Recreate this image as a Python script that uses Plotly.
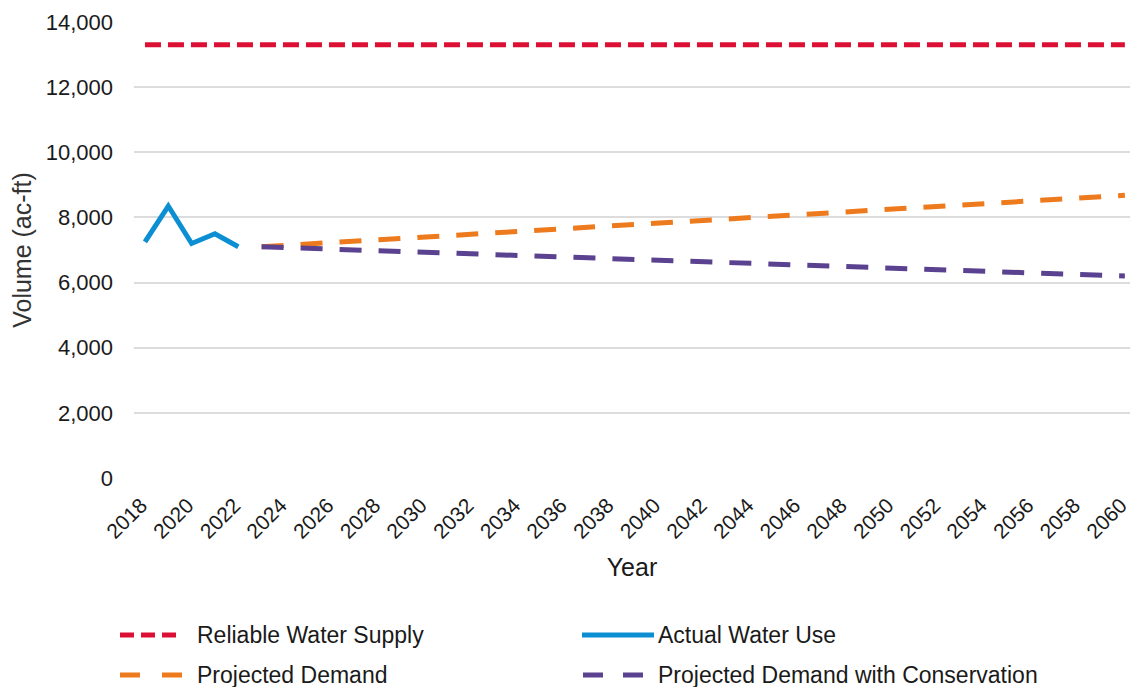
import plotly.graph_objects as go

# Water supply and demand series (acre-feet)
supply_years = [2018, 2060]
reliable_supply = [13300, 13300]

actual_years = [2018, 2019, 2020, 2021, 2022]
actual_use = [7250, 8350, 7200, 7500, 7100]

proj_years = [2023, 2030, 2040, 2050, 2060]
projected_demand = [7100, 7400, 7830, 8250, 8680]
demand_with_conservation = [7100, 6930, 6690, 6440, 6200]

x_ticks = list(range(2018, 2061, 2))
y_ticks = [0, 2000, 4000, 6000, 8000, 10000, 12000, 14000]

FONT = "Liberation Sans, Arial, sans-serif"
TEXT = "#1a1a1a"

W, H = 1130, 687
ML, MR, MT, MB = 134, 0, 22, 209
PW, PH = W - ML - MR, H - MT - MB

RED, BLUE, ORANGE, PURPLE = "#DC1035", "#0C8ED3", "#EE7A1E", "#5A4290"
SUPPLY_DASH = "16px,7px"
DEMAND_DASH = "22px,17px"

series = [
    ("Reliable Water Supply", supply_years, reliable_supply, RED, 5, SUPPLY_DASH),
    ("Actual Water Use", actual_years, actual_use, BLUE, 5, "solid"),
    ("Projected Demand", proj_years, projected_demand, ORANGE, 5, DEMAND_DASH),
    ("Projected Demand with Conservation", proj_years, demand_with_conservation, PURPLE, 5, DEMAND_DASH),
]

fig = go.Figure()
for name, xs, ys, color, width, dash in series:
    fig.add_trace(go.Scatter(
        x=xs, y=ys, mode="lines", name=name,
        line=dict(color=color, width=width, dash=dash),
        showlegend=False,
    ))


def px_x(px):
    return (px - ML) / PW


def px_y(py):
    return (H - MB - py) / PH


# Two-column legend below the chart: (symbol start, symbol end, text x, row y)
legend_items = [
    ("Reliable Water Supply", RED, "14px,7px", 120, 182, 195, 635),
    ("Actual Water Use", BLUE, "solid", 582, 654, 656, 635),
    ("Projected Demand", ORANGE, "20px,22px", 120, 183, 195, 675),
    ("Projected Demand with Conservation", PURPLE, "20px,20px", 583, 648, 656, 675),
]
shapes, annotations = [], []
for label, color, dash, x0, x1, tx, ty in legend_items:
    shapes.append(dict(
        type="line", xref="paper", yref="paper",
        x0=px_x(x0), x1=px_x(x1), y0=px_y(ty), y1=px_y(ty),
        line=dict(color=color, width=5, dash=dash),
    ))
    annotations.append(dict(
        text=label, xref="paper", yref="paper",
        x=px_x(tx), y=px_y(ty), xanchor="left", yanchor="middle",
        showarrow=False, font=dict(family=FONT, size=23, color=TEXT),
    ))

fig.update_layout(
    width=W, height=H,
    margin=dict(l=ML, r=MR, t=MT, b=MB, autoexpand=False),
    paper_bgcolor="white", plot_bgcolor="white",
    font=dict(family=FONT, size=21, color=TEXT),
    showlegend=False,
    shapes=shapes,
    annotations=annotations,
    xaxis=dict(
        range=[2017.53, 2060.22],
        tickmode="array", tickvals=x_ticks,
        tickangle=-45,
        showgrid=False, zeroline=False, showline=False,
        ticks="", ticklabelstandoff=10,
        ticklabelshift=-4,
        ticklabeloverflow="allow",
        automargin=False,
        tickfont=dict(family=FONT, size=21, color=TEXT),
        title=dict(text="Year", font=dict(family=FONT, size=25, color=TEXT), standoff=16),
    ),
    yaxis=dict(
        range=[0, 14000],
        tickmode="array", tickvals=y_ticks,
        tickformat=",",
        showgrid=True, gridcolor="#DCDCDC", gridwidth=1.5,
        zeroline=False, showline=False,
        ticks="", ticklabelstandoff=20,
        automargin=False,
        tickfont=dict(family=FONT, size=22, color=TEXT),
        title=dict(text="Volume (ac-ft)", font=dict(family=FONT, size=25, color="#333333"), standoff=6),
    ),
)

fig.write_html("out.html")
